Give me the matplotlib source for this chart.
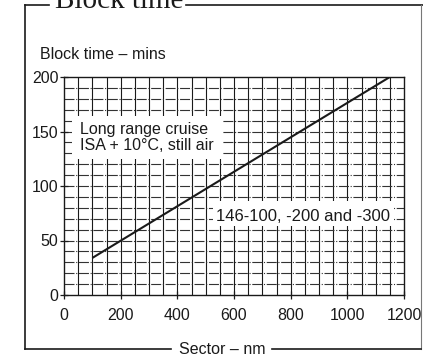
import matplotlib
matplotlib.use("Agg")
import matplotlib.pyplot as plt
from matplotlib.lines import Line2D
from matplotlib.patches import Rectangle

# Block time vs sector length, long range cruise
sector_nm = [100, 1150]
block_time_min = [34, 200]

x_ticks = [0, 200, 400, 600, 800, 1000, 1200]
y_ticks = [0, 50, 100, 150, 200]

W, H = 423, 359
INK = "#1a1a1a"
plt.rcParams["font.family"] = ["Liberation Sans", "DejaVu Sans"]


def fx(px):
    return px / W


def fy(py):
    return 1 - py / H


fig = plt.figure(figsize=(W / 100, H / 100), dpi=100)
fig.patch.set_facecolor("white")
ax = fig.add_axes([fx(64), fy(295), 340 / W, 218 / H])

ax.set_xlim(0, 1200)
ax.set_ylim(0, 200)

# chart paper grid: solid verticals every 50 nm, dash-dot horizontals every 10 min
for gx in range(50, 1200, 50):
    ax.axvline(gx, color=INK, lw=0.8, zorder=1)
for gy in range(10, 200, 10):
    ax.axhline(gy, color="#333333", lw=0.8, dashes=(9, 1.5, 1, 1.5), zorder=1)

# blank panels behind the annotations
ax.add_patch(Rectangle((28, 125), 533, 39, facecolor="white", edgecolor="none", zorder=2))
ax.add_patch(Rectangle((526, 63), 639, 23, facecolor="white", edgecolor="none", zorder=2))

ax.plot(sector_nm, block_time_min, color=INK, lw=1.5, solid_capstyle="butt", zorder=3)

ax.text(56, 147.5, "Long range cruise", fontsize=11.5, color=INK, zorder=4)
ax.text(56, 133, "ISA + 10°C, still air", fontsize=11.5, color=INK, zorder=4)
ax.text(845, 68, "146-100, -200 and -300", fontsize=12, color=INK,
        ha="center", zorder=4)

for s in ax.spines.values():
    s.set_color(INK)
    s.set_linewidth(1.0)

ax.set_xticks(x_ticks)
ax.set_yticks(y_ticks)
ax.tick_params(axis="both", direction="inout", length=6, width=0.9,
               colors=INK, labelsize=11.5)
ax.tick_params(axis="x", pad=6)
ax.tick_params(axis="y", pad=1)

fig.text(fx(40), fy(59), "Block time – mins", fontsize=11.5, color=INK)

# surrounding panel frame with title and axis caption
frame = dict(color=INK, lw=1.2, transform=fig.transFigure)
fig.add_artist(Line2D([fx(25), fx(25)], [fy(5), fy(349)], **frame))
fig.add_artist(Line2D([fx(25), fx(49)], [fy(5), fy(5)], **frame))
fig.add_artist(Line2D([fx(186), fx(423)], [fy(5), fy(5)], **frame))
fig.add_artist(Line2D([fx(421), fx(421)], [fy(5), fy(349)], color="#777777",
                      lw=0.8, transform=fig.transFigure))
fig.add_artist(Line2D([fx(25), fx(171)], [fy(349), fy(349)], **frame))
fig.add_artist(Line2D([fx(272), fx(421)], [fy(349), fy(349)], **frame))

fig.text(fx(55), fy(8), "Block time", family="Liberation Serif", fontsize=21,
         color=INK, va="baseline")
fig.text(fx(222), fy(349), "Sector – nm", fontsize=11.5, color=INK,
         ha="center", va="center")

fig.savefig("out.png", dpi=100, facecolor="white")
